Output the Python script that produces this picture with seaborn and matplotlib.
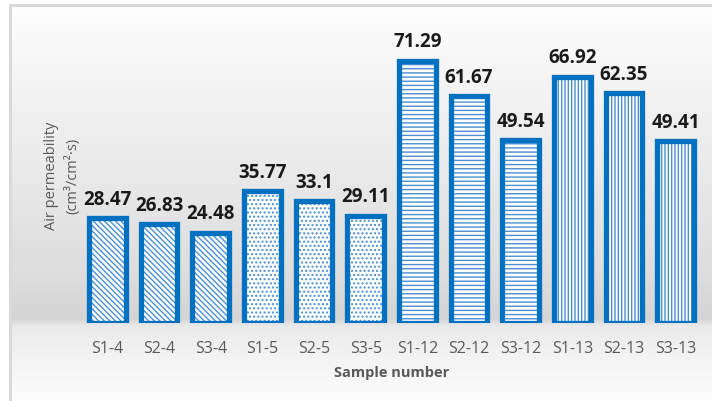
import numpy as np
import pandas as pd
import matplotlib
matplotlib.use("Agg")
import matplotlib.pyplot as plt
import seaborn as sns

samples = ["S1-4", "S2-4", "S3-4", "S1-5", "S2-5", "S3-5",
           "S1-12", "S2-12", "S3-12", "S1-13", "S2-13", "S3-13"]
values = [28.47, 26.83, 24.48, 35.77, 33.1, 29.11,
          71.29, 61.67, 49.54, 66.92, 62.35, 49.41]
value_labels = ["28.47", "26.83", "24.48", "35.77", "33.1", "29.11",
                "71.29", "61.67", "49.54", "66.92", "62.35", "49.41"]
hatches = ["\\\\\\\\\\\\"] * 3 + ["...."] * 3 + ["----"] * 3 + ["|||||"] * 3

sns.set_theme(style="white")
plt.rcParams["font.family"] = ["Open Sans", "DejaVu Sans"]
plt.rcParams["hatch.linewidth"] = 1.0

W, H = 712, 401
fig = plt.figure(figsize=(W / 100, H / 100), dpi=100)
fig.patch.set_facecolor("white")

# background gradient panel
bg = fig.add_axes([10 / W, 0, 1 - 10 / W, 1 - 5 / H], zorder=-10)
rows = np.arange(5, H)
stops_y = [5, 100, 200, 280, 318, 326, 360, 401]
stops_v = [254, 242, 230, 220, 212, 234, 244, 253]
g = np.interp(rows, stops_y, stops_v) / 255.0
img = np.repeat(g[:, None], 2, axis=1)
bg.imshow(np.dstack([img, img, img]), aspect="auto", extent=[0, 1, 0, 1])
bg.set_xlim(0, 1); bg.set_ylim(0, 1)
bg.set_axis_off()
bg.plot([0, 0], [0, 1], color="#d9d9d9", lw=2.2, transform=bg.transAxes, clip_on=False)
bg.plot([0, 1], [1, 1], color="#d9d9d9", lw=2.2, transform=bg.transAxes, clip_on=False)

ax = fig.add_axes([81.7 / W, (H - 322.5) / H, 619.7 / W, 294 / H])
ax.patch.set_alpha(0)
df = pd.DataFrame({"sample": samples, "value": values})

# hatch layer
sns.barplot(data=df, x="sample", y="value", ax=ax, color="white",
            width=0.71, edgecolor="#3d85c6", linewidth=0, saturation=1)
for p, h in zip(ax.patches, hatches):
    p.set_hatch(h)
    p.set_facecolor("white")
    p.set_edgecolor("#4a8fd0")
    p.set_linewidth(0)
n0 = len(ax.patches)
# border layer
sns.barplot(data=df, x="sample", y="value", ax=ax, fill=False,
            width=0.71, color="#0070c0", linewidth=3.8, saturation=1)
for p in ax.patches[n0:]:
    p.set_edgecolor("#0070c0")
    p.set_linewidth(3.8)
    p.set_joinstyle("miter")

for i, (v, lab) in enumerate(zip(values, value_labels)):
    ax.annotate(lab, (i, v), xytext=(0, 9.5), textcoords="offset points",
                ha="center", va="baseline", fontsize=13.5, fontweight="bold",
                color="#1a1a1a")

ax.set_ylim(0, 80)
ax.set_xlim(-0.5, 11.5)
ax.set_yticks([])
for s in ax.spines.values():
    s.set_visible(False)
ax.tick_params(axis="x", length=0, pad=13, labelsize=11.5, labelcolor="#595959")
ax.set_xlabel("Sample number", fontsize=10.5, fontweight="bold", color="#595959", labelpad=7)
ax.set_ylabel("Air permeability\n(cm³/cm²·s)", fontsize=10.5, color="#595959",
              labelpad=1, linespacing=1.45)

fig.savefig("out.png", dpi=100)
